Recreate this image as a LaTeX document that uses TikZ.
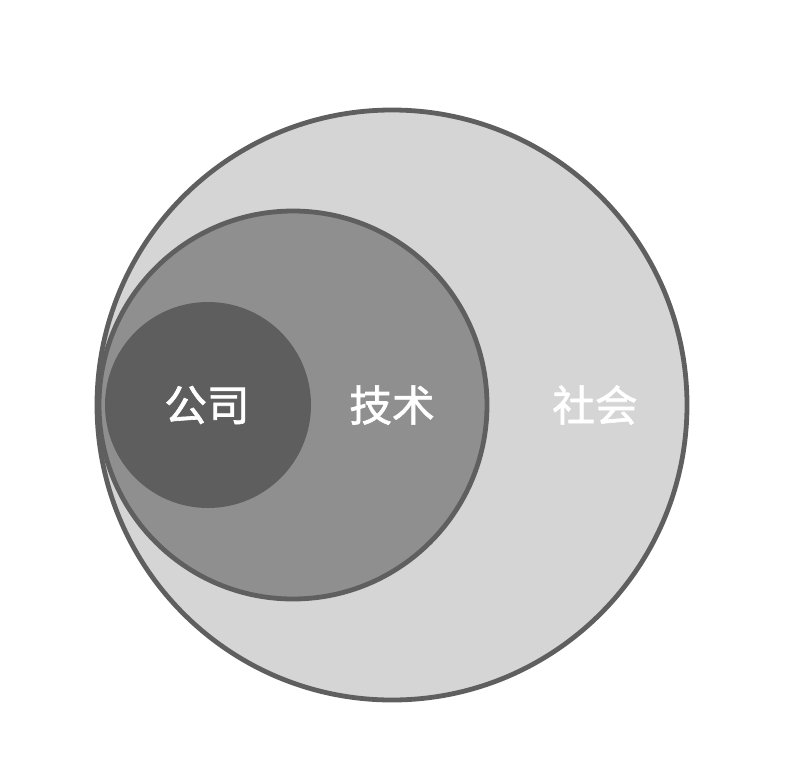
\documentclass[tikz,border=0pt]{standalone}
\usepackage{fontspec}
\usepackage{tikz}
\newfontfamily\cjk[FakeBold=1.5]{Noto Sans CJK SC}
\definecolor{rim}{HTML}{5F5F5F}
\definecolor{shehui}{HTML}{D6D5D6}
\definecolor{jishu}{HTML}{8F8F8F}
\definecolor{gongsi}{HTML}{5E5E5E}
\tikzset{label text/.style={text=white, font=\cjk\fontsize{32}{32}\selectfont}}

\begin{document}
\begin{tikzpicture}[x=0.75pt,y=-0.75pt]
                \useasboundingbox (0,0) rectangle (812,778);

                \draw[line width=3.6pt, draw=rim, fill=shehui] (392,405) circle (295);
                \draw[line width=3.6pt, draw=rim, fill=jishu] (293,405) circle (194);
                \fill[gongsi] (208,405) circle (103);

                \node[label text] (gs) at (207,405) {公司};
                \node[label text] (js) at (392,405) {技术};
                \node[label text] (sh) at (595,405) {社会};
            \end{tikzpicture}
\end{document}
